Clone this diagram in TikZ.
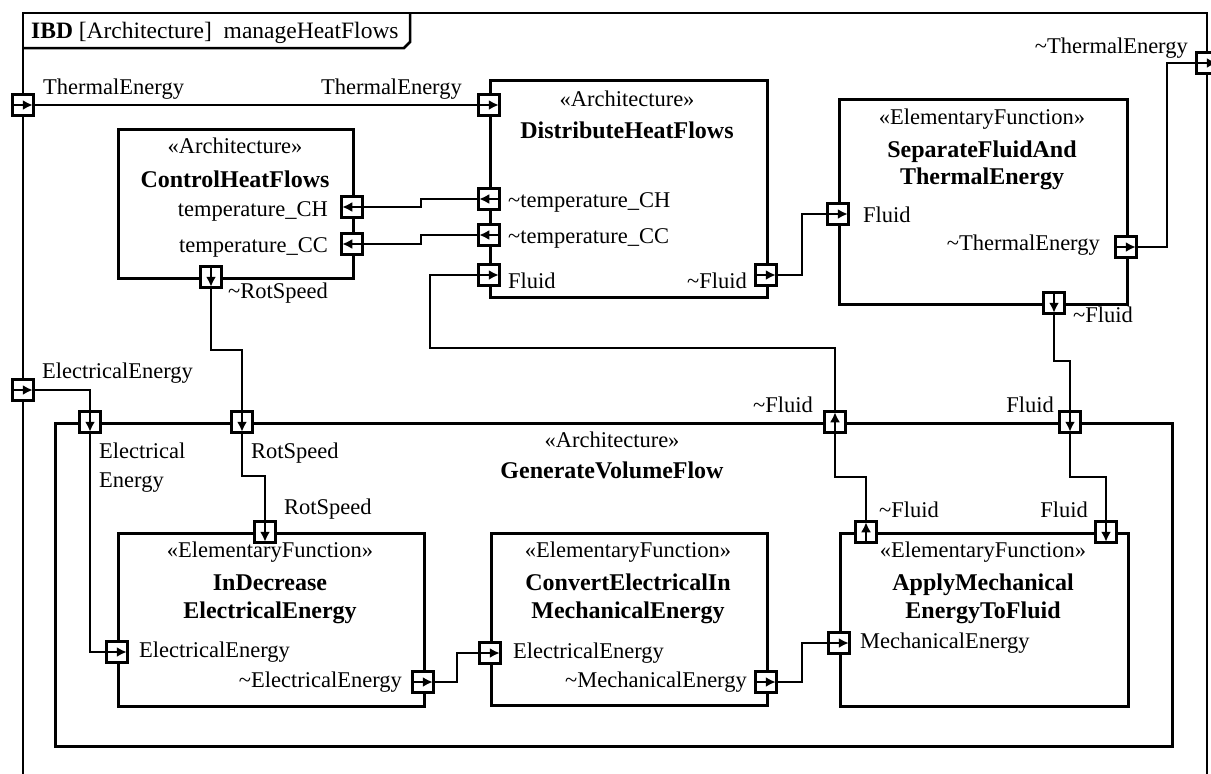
\documentclass[tikz,border=0pt]{standalone}
\usepackage{fontspec}
\setmainfont{Liberation Serif}
\usetikzlibrary{arrows.meta,backgrounds}
\newcommand\tild{\textasciitilde}
% arrows drawn inside a port, pointing right / left / down / up
\newcommand\portR[1]{\draw[parr] (#1.west) -- (#1.east);}
\newcommand\portL[1]{\draw[parr] (#1.east) -- (#1.west);}
\newcommand\portD[1]{\draw[parr] (#1.north) -- (#1.south);}
\newcommand\portU[1]{\draw[parr] (#1.south) -- (#1.north);}
\tikzset{
  frameline/.style={line width=2.5pt},
  blockbox/.style={draw, line width=2.5pt, anchor=north west, inner sep=0pt},
  port/.style={draw, fill=white, line width=2.5pt, minimum size=21pt, inner sep=0pt},
  parr/.style={line width=2.5pt, -{Latex[length=10pt,width=10pt]}, shorten >=2pt},
  wire/.style={line width=2.5pt},
  lbl/.style={inner sep=0pt, font=\fontsize{22.5}{27}\selectfont},
  ttl/.style={inner sep=0pt, anchor=base, font=\fontsize{24}{28}\selectfont\bfseries},
  stereo/.style={inner sep=0pt, anchor=base, font=\fontsize{22.5}{27}\selectfont},
}
\begin{document}
\begin{tikzpicture}[x=1pt,y=-1pt]
\useasboundingbox (0,0) rectangle (1211,774);

% diagram frame and its heading tab
\draw[frameline] (23,790) -- (23,13) -- (1207,13) -- (1207,790);
\draw[frameline] (23,48) -- (404,48) -- (410,42) -- (410,13);
\node[lbl, anchor=base west, font=\fontsize{23.5}{28}\selectfont] (head) at (31,38) {\textbf{IBD} [Architecture]\ \ manageHeatFlows};

% blocks
\node[blockbox, minimum width=235pt, minimum height=149pt] (chf) at (117,128) {};
\node[blockbox, minimum width=277pt, minimum height=217pt] (dhf) at (489,79) {};
\node[blockbox, minimum width=288pt, minimum height=205pt] (sfat) at (838,98) {};
\node[blockbox, minimum width=1117pt, minimum height=323pt] (gvf) at (54,422) {};
\node[blockbox, minimum width=306pt, minimum height=173pt] (ide) at (117,532) {};
\node[blockbox, minimum width=276pt, minimum height=172pt] (cem) at (490,532) {};
\node[blockbox, minimum width=288pt, minimum height=173pt] (amf) at (839,532) {};

% block headings
\node[stereo] (chfS) at (235,153) {«Architecture»};
\node[ttl] (chfN) at (235,187) {ControlHeatFlows};
\node[stereo] (dhfS) at (627,106) {«Architecture»};
\node[ttl] (dhfN) at (627,138) {DistributeHeatFlows};
\node[stereo] (sfatS) at (982,124) {«ElementaryFunction»};
\node[ttl] (sfatN1) at (982,157) {SeparateFluidAnd};
\node[ttl] (sfatN2) at (982,184) {ThermalEnergy};
\node[stereo] (gvfS) at (612,447) {«Architecture»};
\node[ttl] (gvfN) at (612,478) {GenerateVolumeFlow};
\node[stereo] (ideS) at (270,557) {«ElementaryFunction»};
\node[ttl] (ideN1) at (270,590) {InDecrease};
\node[ttl] (ideN2) at (270,618) {ElectricalEnergy};
\node[stereo] (cemS) at (628,557) {«ElementaryFunction»};
\node[ttl] (cemN1) at (628,590) {ConvertElectricalIn};
\node[ttl] (cemN2) at (628,618) {MechanicalEnergy};
\node[stereo] (amfS) at (983,557) {«ElementaryFunction»};
\node[ttl] (amfN1) at (983,590) {ApplyMechanical};
\node[ttl] (amfN2) at (983,618) {EnergyToFluid};

% ports
\node[port] (fTE) at (23,105) {};
\node[port] (fEE) at (23,390) {};
\node[port] (fTTE) at (1207,63) {};
\node[port] (dhfTE) at (489,105) {};
\node[port] (dhfTCH) at (489,199) {};
\node[port] (dhfTCC) at (489,235) {};
\node[port] (dhfF) at (489,275) {};
\node[port] (dhfTF) at (766,275) {};
\node[port] (chfTCH) at (352,207) {};
\node[port] (chfTCC) at (352,244) {};
\node[port] (chfRS) at (211,277) {};
\node[port] (sfatF) at (838,214) {};
\node[port] (sfatTTE) at (1126,247) {};
\node[port] (sfatTF) at (1054,303) {};
\node[port] (gvfEE) at (90,422) {};
\node[port] (gvfRS) at (242,422) {};
\node[port] (gvfTF) at (835,422) {};
\node[port] (gvfF) at (1070,422) {};
\node[port] (ideRS) at (265,532) {};
\node[port] (ideEE) at (117,652) {};
\node[port] (ideTEE) at (423,682) {};
\node[port] (cemEE) at (490,653) {};
\node[port] (cemTME) at (766,682) {};
\node[port] (amfTF) at (866,532) {};
\node[port] (amfF) at (1106,532) {};
\node[port] (amfME) at (839,643) {};

% port directions
\portR{fTE} \portR{fEE} \portR{fTTE}
\portR{dhfTE} \portL{dhfTCH} \portL{dhfTCC} \portR{dhfF} \portR{dhfTF}
\portL{chfTCH} \portL{chfTCC} \portD{chfRS}
\portR{sfatF} \portR{sfatTTE} \portD{sfatTF}
\portD{gvfEE} \portD{gvfRS} \portU{gvfTF} \portD{gvfF}
\portD{ideRS} \portR{ideEE} \portR{ideTEE}
\portR{cemEE} \portR{cemTME}
\portU{amfTF} \portD{amfF} \portR{amfME}

% port labels
\node[lbl, anchor=base west] (lfTE) at (43,94) {ThermalEnergy};
\node[lbl, anchor=base east] (ldhfTE) at (462,94) {ThermalEnergy};
\node[lbl, anchor=base east] (lfTTE) at (1188,53) {\tild ThermalEnergy};
\node[lbl, anchor=base west] (lfEE) at (42,378) {ElectricalEnergy};
\node[lbl, anchor=base west] (ldhfTCH) at (508,207) {\tild temperature\_CH};
\node[lbl, anchor=base west] (ldhfTCC) at (508,243) {\tild temperature\_CC};
\node[lbl, anchor=base west] (ldhfF) at (508,288) {Fluid};
\node[lbl, anchor=base east] (ldhfTF) at (747,288) {\tild Fluid};
\node[lbl, anchor=base east] (lchfTCH) at (328,216) {temperature\_CH};
\node[lbl, anchor=base east] (lchfTCC) at (328,252) {temperature\_CC};
\node[lbl, anchor=base west] (lchfRS) at (228,298) {\tild RotSpeed};
\node[lbl, anchor=base west] (lsfatF) at (863,222) {Fluid};
\node[lbl, anchor=base east] (lsfatTTE) at (1100,250) {\tild ThermalEnergy};
\node[lbl, anchor=base west] (lsfatTF) at (1073,322) {\tild Fluid};
\node[lbl, anchor=base west] (lgvfEE1) at (99,458) {Electrical};
\node[lbl, anchor=base west] (lgvfEE2) at (99,487) {Energy};
\node[lbl, anchor=base west] (lgvfRS) at (251,458) {RotSpeed};
\node[lbl, anchor=base east] (lgvfTF) at (813,412) {\tild Fluid};
\node[lbl, anchor=base east] (lgvfF) at (1054,412) {Fluid};
\node[lbl, anchor=base west] (lideRS) at (284,514) {RotSpeed};
\node[lbl, anchor=base west] (lideEE) at (139,657) {ElectricalEnergy};
\node[lbl, anchor=base east] (lideTEE) at (402,687) {\tild ElectricalEnergy};
\node[lbl, anchor=base west] (lcemEE) at (513,658) {ElectricalEnergy};
\node[lbl, anchor=base east] (lcemTME) at (747,687) {\tild MechanicalEnergy};
\node[lbl, anchor=base west] (lamfTF) at (879,517) {\tild Fluid};
\node[lbl, anchor=base east] (lamfF) at (1088,517) {Fluid};
\node[lbl, anchor=base west] (lamfME) at (860,648) {MechanicalEnergy};

% connectors
\begin{pgfonlayer}{background}
\draw[wire] (fTE.center) -- (dhfTE.center);
\draw[wire] (dhfTCH.center) -- ++(-68,0) |- (chfTCH.center);
\draw[wire] (dhfTCC.center) -- ++(-68,0) |- (chfTCC.center);
\draw[wire] (gvfTF.center) -- ++(0,-74) -| ++(-405,-73) -- (dhfF.center);
\draw[wire] (amfTF.center) -- ++(0,-55) -| (gvfTF.center);
\draw[wire] (dhfTF.center) -- ++(36,0) |- (sfatF.center);
\draw[wire] (sfatTTE.center) -- ++(41,0) |- (fTTE.center);
\draw[wire] (sfatTF.center) -- ++(0,58) -| (gvfF.center);
\draw[wire] (gvfF.center) -- ++(0,55) -| (amfF.center);
\draw[wire] (fEE.center) -| (gvfEE.center);
\draw[wire] (gvfEE.center) |- (ideEE.center);
\draw[wire] (chfRS.center) -- ++(0,73) -| (gvfRS.center);
\draw[wire] (gvfRS.center) -- ++(0,54) -| (ideRS.center);
\draw[wire] (ideTEE.center) -- ++(34,0) |- (cemEE.center);
\draw[wire] (cemTME.center) -- ++(36,0) |- (amfME.center);
\end{pgfonlayer}
\end{tikzpicture}
\end{document}
